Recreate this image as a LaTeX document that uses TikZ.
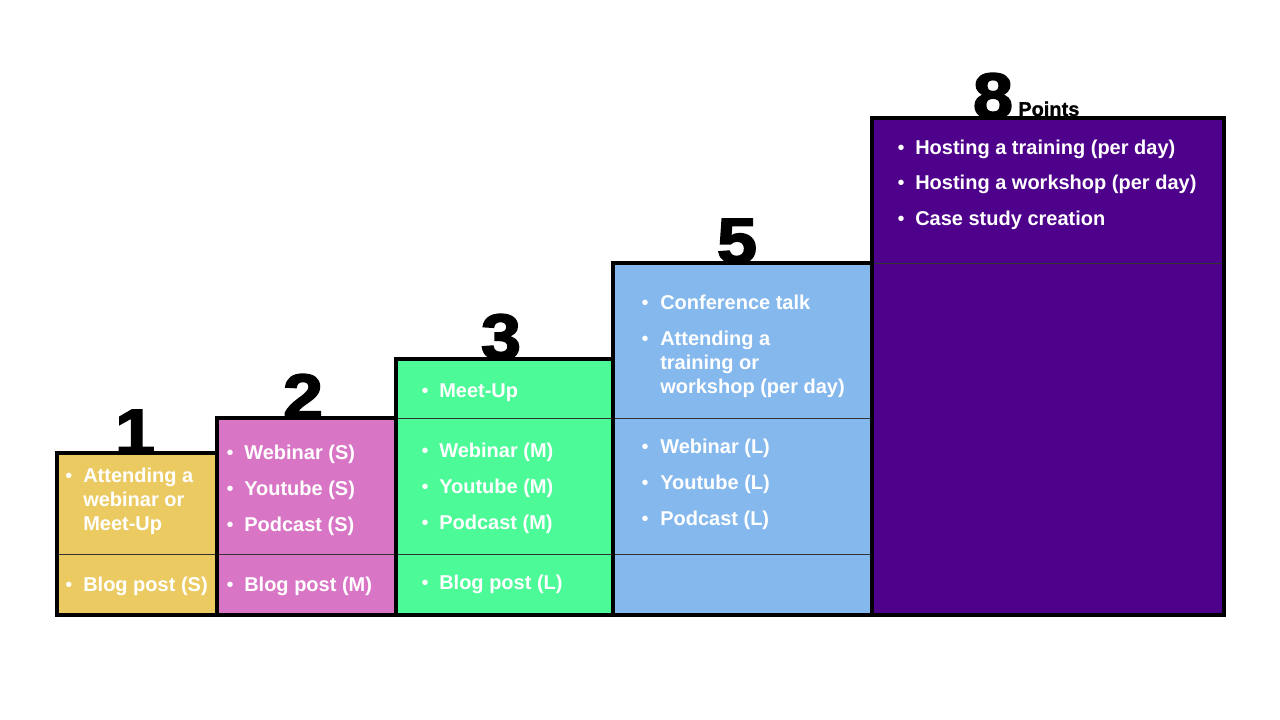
\documentclass[tikz,border=0pt]{standalone}
\usepackage{fontspec}
\setmainfont{Liberation Sans}
\newfontfamily\numfont[BoldFeatures={FakeBold=3,FakeStretch=1.12}]{Liberation Sans}
\newfontfamily\ptsfont[BoldFeatures={FakeBold=1}]{Liberation Sans}
\definecolor{cyellow}{RGB}{235,202,98}
\definecolor{cpink}{RGB}{216,117,197}
\definecolor{cgreen}{RGB}{76,250,152}
\definecolor{cblue}{RGB}{133,184,237}
\definecolor{cpurple}{RGB}{78,2,140}
\tikzset{
  boxline/.style={draw=black, line width=2.4pt, line join=miter},
  sepline/.style={draw=black!80, line width=0.5pt},
  num/.style={font=\fontsize{48}{48}\numfont\bfseries, anchor=base, inner sep=0pt},
  ptslabel/.style={font=\fontsize{15}{16}\ptsfont\bfseries, anchor=base west, inner sep=0pt},
  itm/.style={font=\fontsize{15}{18}\selectfont\bfseries, text=white, anchor=base west, inner sep=0pt},
  bul/.style={font=\fontsize{15}{18}\selectfont, text=white, anchor=base, inner sep=0pt},
}
\begin{document}
\begin{tikzpicture}[x=0.75pt, y=-0.75pt]
\useasboundingbox (0,0) rectangle (1280,720);
% fills
\fill[cyellow] (57,453) rectangle (217,615);
\fill[cpink] (217,418) rectangle (396,615);
\fill[cgreen] (396,359) rectangle (613,615);
\fill[cblue] (613,263) rectangle (872,615);
\fill[cpurple] (872,118) rectangle (1224,615);
% separators
\draw[sepline] (57,554) -- (872,554);
\draw[sepline] (396,418) -- (872,418);
\draw[sepline] (872,263) -- (1224,263);
% numbers
\node[num] (n1) at (135,454) {1};
\node[num] (n2) at (303,419) {2};
\node[num] (n3) at (501,359) {3};
\node[num] (n5) at (737,263) {5};
\node[num] (n8) at (993,118) {8};
\node[ptslabel] (pts) at (1018,116) {Points};
% borders
\draw[boxline] (57,453) rectangle (217,615);
\draw[boxline] (217,418) rectangle (396,615);
\draw[boxline] (396,359) rectangle (613,615);
\draw[boxline] (613,263) rectangle (872,615);
\draw[boxline] (872,118) rectangle (1224,615);
% box 1
\node[bul] (b1a) at (69,482) {\textbullet};
\node[itm] (t1a) at (83,482) {Attending a};
\node[itm] (t1b) at (83,506) {webinar or};
\node[itm] (t1c) at (83,530) {Meet-Up};
\node[bul] (b1d) at (69,591) {\textbullet};
\node[itm] (t1d) at (83,591) {Blog post (S)};
% box 2
\node[bul] (b2a) at (230,459) {\textbullet};
\node[itm] (t2a) at (244,459) {Webinar (S)};
\node[bul] (b2b) at (230,495) {\textbullet};
\node[itm] (t2b) at (244,495) {Youtube (S)};
\node[bul] (b2c) at (230,531) {\textbullet};
\node[itm] (t2c) at (244,531) {Podcast (S)};
\node[bul] (b2d) at (230,591) {\textbullet};
\node[itm] (t2d) at (244,591) {Blog post (M)};
% box 3
\node[bul] (b3a) at (425,397) {\textbullet};
\node[itm] (t3a) at (439,397) {Meet-Up};
\node[bul] (b3b) at (425,457) {\textbullet};
\node[itm] (t3b) at (439,457) {Webinar (M)};
\node[bul] (b3c) at (425,493) {\textbullet};
\node[itm] (t3c) at (439,493) {Youtube (M)};
\node[bul] (b3d) at (425,529) {\textbullet};
\node[itm] (t3d) at (439,529) {Podcast (M)};
\node[bul] (b3e) at (425,589) {\textbullet};
\node[itm] (t3e) at (439,589) {Blog post (L)};
% box 4
\node[bul] (b4a) at (645,309) {\textbullet};
\node[itm] (t4a) at (660,309) {Conference talk};
\node[bul] (b4b) at (645,345) {\textbullet};
\node[itm] (t4b) at (660,345) {Attending a};
\node[itm] (t4c) at (660,369) {training or};
\node[itm] (t4d) at (660,393) {workshop (per day)};
\node[bul] (b4e) at (645,453) {\textbullet};
\node[itm] (t4e) at (660,453) {Webinar (L)};
\node[bul] (b4f) at (645,489) {\textbullet};
\node[itm] (t4f) at (660,489) {Youtube (L)};
\node[bul] (b4g) at (645,525) {\textbullet};
\node[itm] (t4g) at (660,525) {Podcast (L)};
% box 5
\node[bul] (b5a) at (901,155) {\textbullet};
\node[itm] (t5a) at (915,155) {Hosting a training (per day)};
\node[bul] (b5b) at (901,190) {\textbullet};
\node[itm] (t5b) at (915,190) {Hosting a workshop (per day)};
\node[bul] (b5c) at (901,226) {\textbullet};
\node[itm] (t5c) at (915,226) {Case study creation};
\end{tikzpicture}
\end{document}
